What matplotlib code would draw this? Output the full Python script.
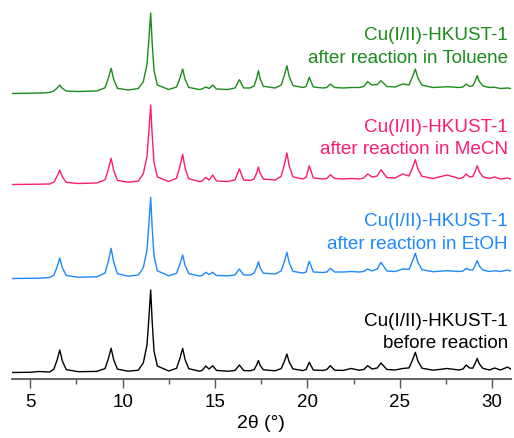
import matplotlib
matplotlib.use("Agg")
import matplotlib.pyplot as plt
from matplotlib.ticker import MultipleLocator

plt.rcParams['font.family'] = ['Liberation Sans', 'DejaVu Sans']

two_theta = [
    4.0, 5.0, 5.45, 6.05,
    6.28, 6.46, 6.60, 6.74, 6.95,
    7.6, 8.6,
    9.05, 9.23, 9.38, 9.52, 9.72,
    10.3, 10.85,
    11.12, 11.32, 11.42, 11.52, 11.60, 11.70, 11.88,
    12.5,
    12.92, 13.10, 13.25, 13.38, 13.58,
    14.15,
    14.30, 14.50, 14.68, 14.88, 15.08,
    15.7,
    16.08, 16.32, 16.55,
    16.9,
    17.12, 17.25, 17.35, 17.45, 17.62,
    18.25,
    18.58, 18.75, 18.89, 19.02, 19.22,
    19.75,
    19.93, 20.10, 20.32,
    20.85,
    21.05, 21.24, 21.48,
    21.95, 22.36, 22.8,
    23.05, 23.26, 23.5,
    23.78, 23.98, 24.3,
    24.75, 25.15,
    25.5, 25.68, 25.84, 25.98, 26.2,
    26.8, 27.56, 28.2,
    28.42, 28.59, 28.78,
    28.95, 29.08, 29.19, 29.3, 29.5,
    29.85, 30.13, 30.45, 30.83, 31.0,
]

# Intensities (a.u.) of each pattern at the vertices above
before_reaction = [
    6.5, 6.7, 7.5, 7.0,
    9.8, 19.2, 29, 18.1, 9.4,
    7.3, 7.6,
    10.4, 20.3, 30.7, 19.2, 9.9,
    7.8, 8.8,
    16, 34, 60, 89, 58, 28, 13,
    8,
    10.7, 20.5, 30.7, 19.4, 10.3,
    7.8,
    8.5, 13, 10, 13.3, 8.6,
    7.8,
    8.5, 14, 8.5,
    8.2,
    9.4, 13.9, 18.5, 13.4, 9.2,
    8.2,
    10.4, 17.5, 25, 16.7, 10.1,
    8.4,
    9.5, 16.7, 9,
    8.5,
    9.5, 13.3, 8.8,
    8.6, 10.5, 8.8,
    9.5, 13.3, 10,
    11, 16, 9.5,
    9, 10.5,
    11.1, 18.7, 26.7, 17.9, 10.8,
    8.8, 10.5, 9,
    10, 14, 11,
    10.8, 15.7, 20.7, 15.1, 10.6,
    9, 11, 9, 12, 10,
]

after_etoh = [
    6.5, 6.7, 6.8, 7.5,
    9.8, 18.2, 27, 17.3, 9.5,
    7.8, 8.2,
    11.9, 24, 36.7, 22.6, 11.3,
    8.8, 10,
    17.3, 35, 60, 87.7, 57.4, 29, 14.2,
    9.2,
    11.8, 20.7, 30, 19.7, 11.4,
    9,
    9.5, 12.7, 10.5, 12.7, 9.5,
    9.2,
    10, 16, 10,
    10,
    12, 17.5, 23.3, 16.9, 11.8,
    11,
    14, 23.2, 32.7, 22.1, 13.6,
    12,
    13, 23.7, 13,
    12.5,
    13, 16.7, 13,
    13, 13.5, 13,
    13.5, 16, 14,
    16, 22.7, 14,
    13.5, 16,
    15.7, 23.5, 31.7, 22.6, 15.3,
    13.3, 14.3, 13.5,
    14, 16.7, 15,
    15.1, 19.6, 24.3, 19, 14.9,
    13.5, 14.3, 13.5, 15, 14,
]

after_mecn = [
    6.5, 6.7, 6.8, 7,
    8.9, 14.8, 21, 14.2, 8.7,
    7.5, 8,
    11.2, 21.7, 32.7, 20.5, 10.7,
    8.8, 10,
    17.2, 34.5, 59, 86, 56.4, 28.6, 14,
    9.5,
    12.8, 24.5, 36.7, 23.1, 12.2,
    9.5,
    10, 13.7, 11, 16, 10,
    9.5,
    11, 22, 11,
    10.5,
    12.1, 17.9, 24, 17.3, 11.9,
    11,
    14.7, 26.1, 38, 24.8, 14.2,
    12,
    13.5, 25.3, 13,
    12,
    12.5, 16.3, 12.5,
    12, 12.5, 12,
    13, 17, 14,
    15, 21.3, 13.5,
    13, 17,
    15, 23, 31.3, 22, 14.7,
    12.5, 16, 12.5,
    13.5, 17, 14,
    14.5, 19.8, 25.3, 19.2, 14.2,
    12.5, 14, 12, 13, 12,
]

after_toluene = [
    6.5, 6.8, 6.9, 7.5,
    9.1, 12, 15, 11.7, 9,
    8.5, 9,
    12.2, 21.7, 31.7, 20.6, 11.7,
    10, 11.5,
    18.2, 35.5, 60, 87, 57.4, 29.6, 15,
    10.5,
    13, 21.8, 31, 20.8, 12.6,
    10.5,
    11, 13, 11.5, 15, 11,
    10.5,
    12, 20.3, 12,
    12,
    14.1, 21.5, 29.3, 20.7, 13.7,
    12,
    14.9, 24.4, 34.3, 23.3, 14.5,
    12.5,
    13.5, 22.7, 13,
    12,
    12.5, 16, 12.5,
    12, 12.5, 12.5,
    13.5, 18.3, 15,
    15.5, 19.3, 13.5,
    13, 16,
    15.2, 22.9, 31, 22, 14.8,
    12.5, 13.3, 12.5,
    13, 16, 13.5,
    14.2, 19.1, 24.3, 18.6, 14,
    12.5, 12.7, 11.5, 12, 11.5,
]

patterns = [before_reaction, after_etoh, after_mecn, after_toluene]
offsets = [0, 94, 188, 279]
colors = ['#000000', '#1E88FF', '#FF1A72', '#1A8C1A']
title_line = "Cu(I/II)-HKUST-1"
condition_lines = ["before reaction", "after reaction in EtOH",
                   "after reaction in MeCN", "after reaction in Toluene"]
# baselines of the two caption lines for each pattern (data units, bottom = 0)
caption_baselines = [(54.5, 32), (153.5, 130.5), (248.5, 225.5), (340.5, 317)]

fig = plt.figure(figsize=(5.14, 4.39), dpi=100)
ax = fig.add_axes([11.7 / 514, 59 / 439, 499 / 514, 380 / 439])

for y, off, c in zip(patterns, offsets, colors):
    ax.plot(two_theta, [v + off for v in y], color=c, lw=1.0)

for cond, (y1, y2), c in zip(condition_lines, caption_baselines, colors):
    ax.text(30.85, y1, title_line, color=c, fontsize=13.6, ha='right', va='baseline')
    ax.text(30.85, y2, cond, color=c, fontsize=13.6, ha='right', va='baseline')

ax.set_xlim(4, 31)
ax.set_ylim(0, 380)
for s in ('top', 'right', 'left'):
    ax.spines[s].set_visible(False)
ax.spines['bottom'].set_color('#555555')
ax.spines['bottom'].set_linewidth(1.3)
ax.set_yticks([])
ax.xaxis.set_major_locator(MultipleLocator(5))
ax.xaxis.set_minor_locator(MultipleLocator(2.5))
ax.tick_params(axis='x', which='major', direction='out', length=6.7, width=1.0,
               color='#555555', labelsize=13.5, pad=3.5)
ax.tick_params(axis='x', which='minor', direction='out', length=3.8, width=1.0,
               color='#555555')
ax.set_xlabel("2θ (°)", fontsize=14, labelpad=3)

fig.savefig("out.png", dpi=100)
